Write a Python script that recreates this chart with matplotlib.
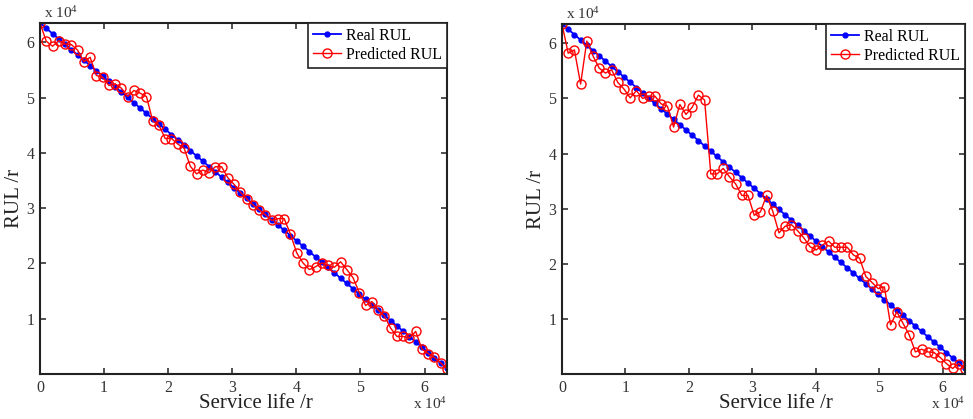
import matplotlib
matplotlib.use("Agg")
import matplotlib.pyplot as plt

plt.rcParams['font.family'] = ['Liberation Serif', 'DejaVu Serif']
plt.rcParams['mathtext.fontset'] = 'custom'
plt.rcParams['mathtext.rm'] = 'Liberation Serif'
plt.rcParams['mathtext.it'] = 'Liberation Serif'

# Service life (r)
service_life = [0, 977, 1954, 2931, 3908, 4885, 5862, 6838, 7815, 8792,
                9769, 10746, 11723, 12700, 13677, 14654, 15631, 16608, 17585, 18562,
                19538, 20515, 21492, 22469, 23446, 24423, 25400, 26377, 27354, 28331,
                29308, 30285, 31262, 32238, 33215, 34192, 35169, 36146, 37123, 38100,
                39077, 40054, 41031, 42008, 42985, 43962, 44938, 45915, 46892, 47869,
                48846, 49823, 50800, 51777, 52754, 53731, 54708, 55685, 56662, 57638,
                58615, 59592, 60569, 61546, 62523, 63500]

# Real RUL (r)
real_rul = [63500, 62538, 61577, 60615, 59654, 58692, 57731, 56769, 55808, 54846,
            53885, 52923, 51962, 51000, 50038, 49077, 48115, 47154, 46192, 45231,
            44269, 43308, 42346, 41385, 40423, 39462, 38500, 37538, 36577, 35615,
            34654, 33692, 32731, 31769, 30808, 29846, 28885, 27923, 26962, 26000,
            25038, 24077, 23115, 22154, 21192, 20231, 19269, 18308, 17346, 16385,
            15423, 14462, 13500, 12538, 11577, 10615, 9654, 8692, 7731, 6769,
            5808, 4846, 3885, 2923, 1962, 1000]

# Predicted RUL, left panel (x 10^4 r)
pred_left = [6.35, 6.02, 5.93, 6.03, 5.97, 5.96, 5.86, 5.65, 5.73, 5.40,
             5.37, 5.22, 5.25, 5.17, 5.02, 5.13, 5.08, 5.02, 4.58, 4.50,
             4.26, 4.26, 4.16, 4.09, 3.76, 3.62, 3.69, 3.64, 3.75, 3.75,
             3.55, 3.43, 3.29, 3.17, 3.06, 2.97, 2.88, 2.78, 2.81, 2.81,
             2.53, 2.19, 2.01, 1.89, 1.94, 2.01, 1.97, 1.93, 2.03, 1.89,
             1.74, 1.47, 1.24, 1.31, 1.16, 1.05, 0.83, 0.68, 0.68, 0.65,
             0.77, 0.45, 0.37, 0.30, 0.20, 0.09]

# Predicted RUL, right panel (x 10^4 r)
pred_right = [6.35, 5.82, 5.88, 5.26, 6.04, 5.77, 5.55, 5.46, 5.52, 5.29,
              5.17, 5.01, 5.14, 5.00, 5.04, 5.04, 4.90, 4.86, 4.48, 4.89,
              4.71, 4.84, 5.06, 4.97, 3.63, 3.63, 3.73, 3.58, 3.45, 3.24,
              3.24, 2.88, 2.94, 3.24, 2.95, 2.56, 2.68, 2.71, 2.60, 2.47,
              2.31, 2.25, 2.34, 2.41, 2.30, 2.30, 2.30, 2.16, 2.10, 1.77,
              1.66, 1.55, 1.58, 0.89, 1.13, 0.92, 0.71, 0.40, 0.45, 0.40,
              0.39, 0.30, 0.19, 0.10, 0.19, 0.09]

x_ticks = [0, 10000, 20000, 30000, 40000, 50000, 60000]
x_tick_labels = ['0', '1', '2', '3', '4', '5', '6']
y_ticks = [10000, 20000, 30000, 40000, 50000, 60000]
y_tick_labels = ['1', '2', '3', '4', '5', '6']

fig = plt.figure(figsize=(9.73, 4.19), dpi=100)
W, H = 973.0, 419.0
axes_px = [(40, 23, 447, 374), (562, 24, 965, 374)]
preds = [pred_left, pred_right]

for (l, t, r, b), pred in zip(axes_px, preds):
    ax = fig.add_axes([l / W, 1 - b / H, (r - l) / W, (b - t) / H])
    ax.plot(service_life, real_rul, color='#0000ff', marker='.', markersize=7,
            linewidth=1.3, label='Real RUL')
    ax.plot(service_life, [v * 10000 for v in pred], color='#ff0000', marker='o',
            markersize=6.5, markerfacecolor='none', markeredgewidth=1.0,
            linewidth=1.0, label='Predicted RUL')
    ax.set_xlim(0, 63500)
    ax.set_ylim(0, 63500)
    ax.set_xticks(x_ticks)
    ax.set_xticklabels(x_tick_labels)
    ax.set_yticks(y_ticks)
    ax.set_yticklabels(y_tick_labels)
    ax.tick_params(direction='in', length=4, width=1.2, labelsize=11.5,
                   top=True, right=True, colors='#333333', labelcolor='#333333', pad=4)
    for s in ax.spines.values():
        s.set_linewidth(1.5)
        s.set_color('#222222')
    ax.set_xlabel('Service life /r', fontsize=15, color='#222222')
    ax.xaxis.set_label_coords(0.53, -0.058, transform=ax.transAxes)
    ax.xaxis.label.set_va('top')
    ax.set_ylabel('RUL /r', fontsize=15, color='#222222')
    ax.yaxis.set_label_coords(-0.04, 0.5, transform=ax.transAxes)
    leg = ax.legend(loc='upper right', fontsize=11.5, fancybox=False, framealpha=1,
                    edgecolor='#222222', borderaxespad=0, handlelength=1.8,
                    borderpad=0.3, labelspacing=0.2, handletextpad=0.3)
    leg.get_frame().set_linewidth(1.2)
    ax.text(0.01, 1.005, r'x 10$^4$', transform=ax.transAxes, fontsize=11,
            ha='left', va='bottom', color='#333333')
    ax.text(1.0, -0.062, r'x 10$^4$', transform=ax.transAxes, fontsize=11,
            ha='right', va='top', color='#333333')

fig.savefig('out.png', dpi=100)
